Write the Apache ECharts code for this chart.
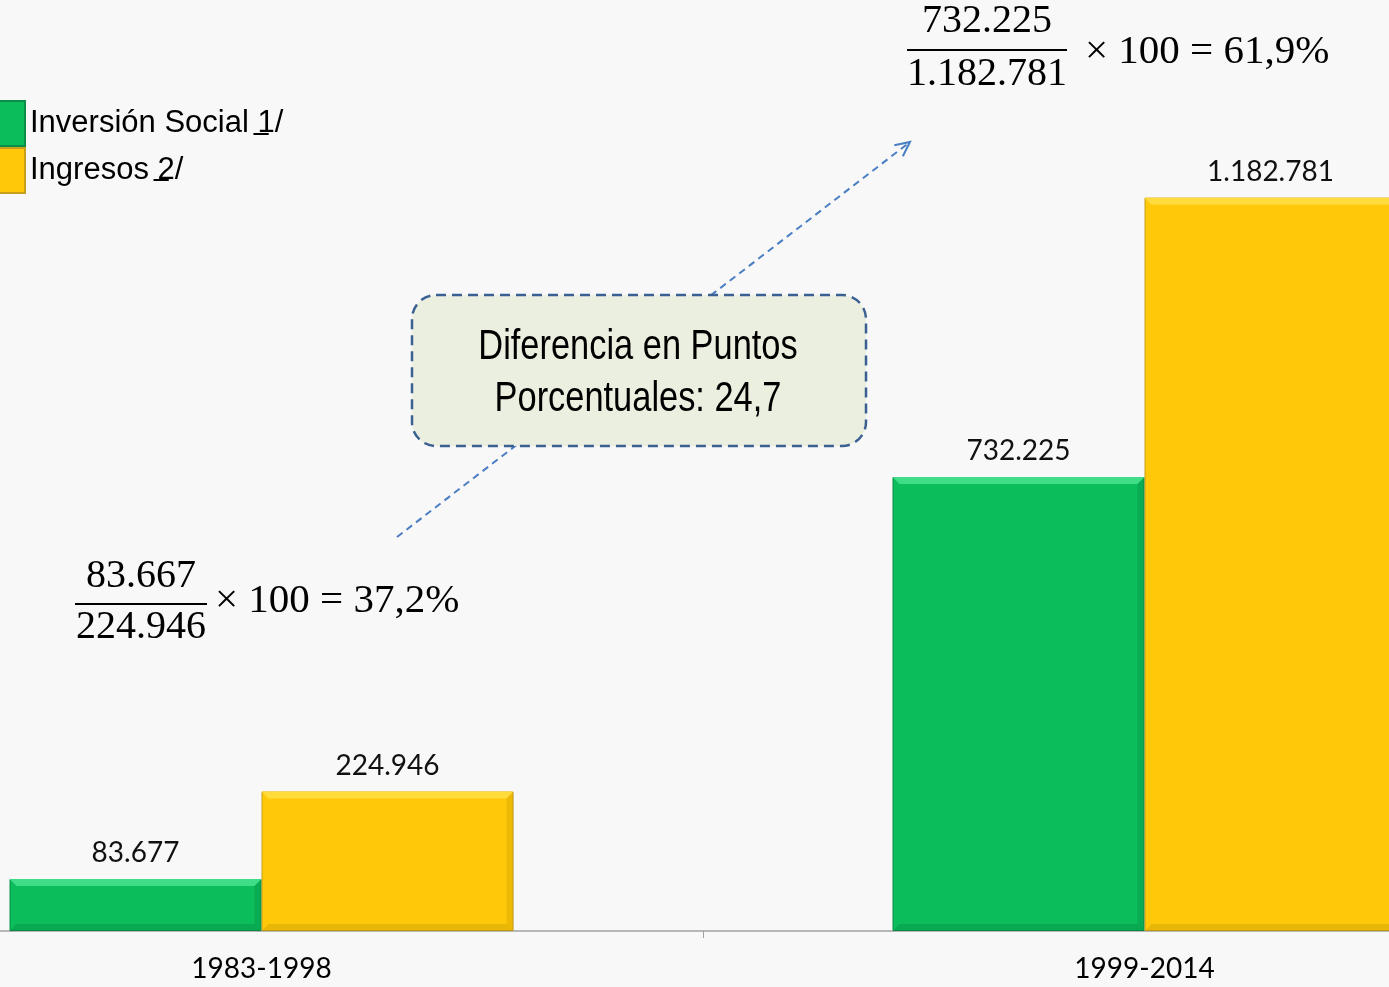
<!DOCTYPE html>
<html><head><meta charset="utf-8">
<script src="https://cdn.jsdelivr.net/npm/echarts@6/dist/echarts.min.js"></script>
<style>html,body{margin:0;padding:0;background:#f8f8f8;overflow:hidden;width:1389px;height:987px}#c{width:1766px;height:987px;margin-left:-180px}</style>
</head><body><div id="c"></div>
<script>
const categories = ['1983-1998', '1999-2014'];
const inversionSocial = [83677, 732225];
const ingresos = [224946, 1182781];
const seriesNames = ['Inversión Social 1/', 'Ingresos 2/'];
const formulaLeft = { num: '83.667', den: '224.946', rest: '× 100 = 37,2%' };
const formulaRight = { num: '732.225', den: '1.182.781', rest: '× 100 = 61,9%' };
const calloutLines = ['Diferencia en Puntos', 'Porcentuales: 24,7'];

const GREEN = '#0bbd5b', YELLOW = '#ffc90a';
const BW = 252;
const OFF = 180; // chart canvas starts 180px left of the window
const sans = "'Liberation Sans', Arial, sans-serif";
const serif = "'Liberation Serif','DejaVu Serif',serif";
const fmt = v => String(v).replace(/\B(?=(\d{3})+(?!\d))/g, '.');

const chart = echarts.init(document.getElementById('c'), null, { renderer: 'canvas' });

function bevel(side, light, dark) {
  return function (params, api) {
    const c = api.coord([api.value(0), api.value(1)]);
    const base = api.coord([api.value(0), 0]);
    const x0 = side < 0 ? c[0] - BW : c[0];
    const x1 = x0 + BW;
    const yt = c[1], yb = base[1], b = 7;
    return {
      type: 'group', silent: true, children: [
        { type: 'polygon', shape: { points: [[x0, yt], [x1, yt], [x1 - b, yt + b], [x0 + b, yt + b]] },
          style: { fill: light } },
        { type: 'polygon', shape: { points: [[x1, yt], [x1, yb], [x1 - b, yb - b], [x1 - b, yt + b]] },
          style: { fill: dark, opacity: 0.25 } },
        { type: 'polygon', shape: { points: [[x0, yb], [x1, yb], [x1 - b, yb - b], [x0 + b, yb - b]] },
          style: { fill: dark, opacity: 0.3 } }
      ]
    };
  };
}

// measure text for underline positions
const LEG_FS = 31;
const mctx = document.createElement('canvas').getContext('2d');
mctx.font = LEG_FS + "px " + sans;
const textX = 24;
function underline(prefix, ch, cy) {
  const w1 = mctx.measureText(prefix).width;
  const w2 = mctx.measureText(ch).width;
  return { type: 'rect', shape: { x: textX + w1 + 2, y: cy, width: w2 - 2, height: 2 }, style: { fill: '#000' }, z: 50 };
}

// arrow geometry
const A0 = [397, 537], A1 = [910, 142];
const dx = A1[0] - A0[0], dy = A1[1] - A0[1], L = Math.hypot(dx, dy);
const ux = dx / L, uy = dy / L;
function rot(x, y, a) { return [x * Math.cos(a) - y * Math.sin(a), x * Math.sin(a) + y * Math.cos(a)]; }
const h1 = rot(-ux, -uy, 0.45), h2 = rot(-ux, -uy, -0.45);
const HL = 16;

function t(x, y, text, opts, extra) {
  return Object.assign({ type: 'text', z: 30, x: x, y: y,
    style: Object.assign({ text: text, fontFamily: serif, fontSize: 40, fill: '#000', align: 'center', verticalAlign: 'middle' }, opts || {}) }, extra || {});
}

const option = {
  backgroundColor: '#f8f8f8',
  animation: false,
  grid: { left: 0, right: 0, top: 1, bottom: 56 },
  legend: {
    data: seriesNames, orient: 'vertical', left: OFF - 25, top: 95,
    icon: 'rect', itemWidth: 44, itemHeight: 45, itemGap: 0,
    textStyle: { fontFamily: sans, fontSize: LEG_FS, color: '#000' },
    selectedMode: false
  },
  xAxis: {
    type: 'category', data: categories,
    axisLine: { lineStyle: { color: '#a0a0a0', width: 1.5 } },
    axisTick: { show: true, length: 7, lineStyle: { color: '#a0a0a0' } },
    axisLabel: { fontFamily: 'Lato, sans-serif', fontSize: 28, color: '#000', margin: 24 }
  },
  yAxis: { type: 'value', min: 0, max: 1500000, show: false },
  series: [
    { name: seriesNames[0], type: 'bar', data: inversionSocial, barWidth: BW, barGap: '0%',
      itemStyle: { color: GREEN, borderColor: '#0a8d46', borderWidth: 1 },
      label: { show: true, position: 'top', distance: 12, fontFamily: 'Lato, sans-serif', fontSize: 28, color: '#111',
        formatter: p => fmt(p.value) } },
    { name: seriesNames[1], type: 'bar', data: ingresos, barWidth: BW, barGap: '0%',
      itemStyle: { color: YELLOW, borderColor: '#c9a01c', borderWidth: 1 },
      label: { show: true, position: 'top', distance: 12, fontFamily: 'Lato, sans-serif', fontSize: 28, color: '#111',
        formatter: p => fmt(p.value) } },
    { name: 'bevel1', type: 'custom', silent: true, z: 3,
      data: inversionSocial.map((v, i) => [i, v]), renderItem: bevel(-1, '#40dd88', '#067a3a') },
    { name: 'bevel2', type: 'custom', silent: true, z: 3,
      data: ingresos.map((v, i) => [i, v]), renderItem: bevel(1, '#ffdc3c', '#b38a00') }
  ],
  graphic: [{
    type: 'group', x: OFF, y: 0, children: [
      // dashed arrow line behind callout
      { type: 'line', z: 10, shape: { x1: A0[0], y1: A0[1], x2: A1[0], y2: A1[1] },
        style: { stroke: '#4a7ec3', lineWidth: 2, lineDash: [7, 5] } },
      { type: 'polyline', z: 10, shape: { points: [[A1[0] + h1[0] * HL, A1[1] + h1[1] * HL], A1, [A1[0] + h2[0] * HL, A1[1] + h2[1] * HL]] },
        style: { stroke: '#4a7ec3', lineWidth: 2, fill: null } },
      // callout box
      { type: 'rect', z: 20, shape: { x: 412, y: 295, width: 454, height: 151, r: 24 },
        style: { fill: '#ebefdf', stroke: '#3b6192', lineWidth: 2.5, lineDash: [10, 6] } },
      t(638, 347, calloutLines[0], { fontFamily: sans, fontSize: 43 }, { scaleX: 0.8 }),
      t(638, 399, calloutLines[1], { fontFamily: sans, fontSize: 43 }, { scaleX: 0.8 }),
      // right formula
      t(987, 21, formulaRight.num),
      { type: 'rect', z: 30, shape: { x: 907, y: 49, width: 160, height: 2 }, style: { fill: '#000' } },
      t(987, 74, formulaRight.den),
      t(1085, 52, formulaRight.rest, { align: 'left', fontSize: 41 }),
      // left formula
      t(141, 576, formulaLeft.num),
      { type: 'rect', z: 30, shape: { x: 75, y: 603, width: 132, height: 2 }, style: { fill: '#000' } },
      t(141, 627, formulaLeft.den),
      t(215, 601, formulaLeft.rest, { align: 'left', fontSize: 41 }),
      // legend underlines
      underline('Inversión Social ', '1', 133),
      underline('Ingresos ', '2', 179)
    ]
  }]
};
chart.setOption(option);
</script>
</body></html>
